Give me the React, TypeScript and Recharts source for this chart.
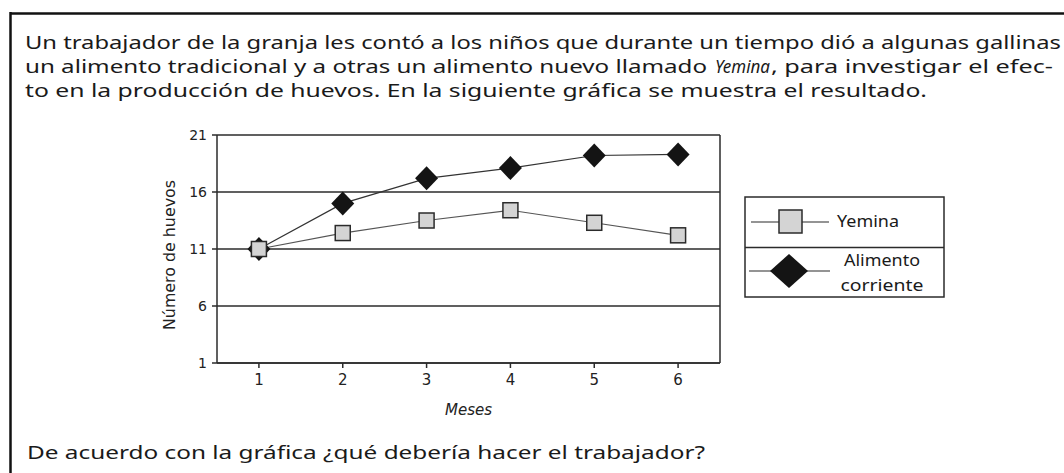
import React from "react";
import {
  CartesianGrid,
  Label,
  Line,
  LineChart,
  ReferenceLine,
  XAxis,
  YAxis,
} from "recharts";

const months = [1, 2, 3, 4, 5, 6];
const yemina = [11, 12.4, 13.5, 14.4, 13.3, 12.2];
const alimento = [11, 15.0, 17.2, 18.1, 19.2, 19.3];
const yTicks = [1, 6, 11, 16, 21];

const data = months.map((mes, i) => ({
  mes,
  yemina: yemina[i],
  alimento: alimento[i],
}));

const INK = "#2b2b2b";
const BODY_FONT = "'Noto Sans', 'DejaVu Sans', sans-serif";
const AXIS_FONT = "'DejaVu Sans', sans-serif";

function SquareDot(props: any) {
  const { cx, cy, index } = props;
  if (cx == null || cy == null) return null;
  return (
    <rect
      key={`sq-${index}`}
      x={cx - 7.5}
      y={cy - 7.5}
      width={15}
      height={15}
      fill="#d4d4d4"
      stroke={INK}
      strokeWidth={1.5}
    />
  );
}

function DiamondDot(props: any) {
  const { cx, cy, index } = props;
  if (cx == null || cy == null) return null;
  return (
    <polygon
      key={`dm-${index}`}
      points={`${cx},${cy - 12} ${cx + 11.5},${cy} ${cx},${cy + 12} ${cx - 11.5},${cy}`}
      fill="#141414"
    />
  );
}

function YLabel({ viewBox }: any) {
  const cx = viewBox.x + 13;
  const cy = viewBox.y + viewBox.height / 2 + 6;
  return (
    <text
      x={cx}
      y={cy}
      transform={`rotate(-90 ${cx} ${cy})`}
      textAnchor="middle"
      dominantBaseline="central"
      fontFamily={AXIS_FONT}
      fontSize={15}
      textLength={150}
      lengthAdjust="spacingAndGlyphs"
      fill="#222"
    >
      Número de huevos
    </text>
  );
}

function XLabel({ viewBox }: any) {
  const cx = viewBox.x + viewBox.width / 2;
  return (
    <text
      x={cx}
      y={410}
      textAnchor="middle"
      dominantBaseline="central"
      fontFamily={AXIS_FONT}
      fontStyle="italic"
      fontSize={15}
      fill="#222"
    >
      Meses
    </text>
  );
}

// legend drawn by hand, the box sits to the right of the plot
function LegendBox() {
  return (
    <g fontFamily={BODY_FONT} fontSize={16} fill="#1a1a1a">
      <rect x={745} y={197} width={199} height={100} fill="#fff" stroke={INK} strokeWidth={1.5} />
      <line x1={745} x2={944} y1={247.5} y2={247.5} stroke={INK} strokeWidth={1.5} />
      <line x1={751} x2={829} y1={222} y2={222} stroke={INK} strokeWidth={1.2} />
      <rect x={779} y={210} width={23} height={23} fill="#d4d4d4" stroke={INK} strokeWidth={1.5} />
      <text x={837} y={227} textLength={62} lengthAdjust="spacingAndGlyphs">
        Yemina
      </text>
      <line x1={749} x2={830} y1={271} y2={271} stroke={INK} strokeWidth={1.2} />
      <polygon points="789,254 808,271 789,288 770,271" fill="#141414" />
      <text x={882} y={266} textAnchor="middle" textLength={76} lengthAdjust="spacingAndGlyphs">
        Alimento
      </text>
      <text x={882} y={291} textAnchor="middle" textLength={83} lengthAdjust="spacingAndGlyphs">
        corriente
      </text>
    </g>
  );
}

export default function App() {
  return (
    <div
      style={{
        position: "absolute",
        left: 0,
        top: 0,
        width: 1064,
        height: 473,
        background: "#fff",
        overflow: "hidden",
      }}
    >
      <svg width={1064} height={473} style={{ position: "absolute", left: 0, top: 0 }}>
        <line x1={10} x2={1064} y1={13.5} y2={13.5} stroke="#111" strokeWidth={2.5} />
        <line x1={10.5} x2={10.5} y1={12} y2={473} stroke="#111" strokeWidth={2.5} />
        <g fontFamily={BODY_FONT} fontSize={18} fill="#1a1a1a">
          <text x={25} y={49} textLength={1036} lengthAdjust="spacingAndGlyphs">
            Un trabajador de la granja les contó a los niños que durante un tiempo dió a algunas gallinas
          </text>
          <text x={25} y={73} textLength={682} lengthAdjust="spacingAndGlyphs">
            un alimento tradicional y a otras un alimento nuevo llamado
          </text>
          <text x={715} y={73} fontStyle="italic" textLength={55} lengthAdjust="spacingAndGlyphs">
            Yemina
          </text>
          <text x={771} y={73} textLength={282} lengthAdjust="spacingAndGlyphs">
            , para investigar el efec-
          </text>
          <text x={25} y={97} textLength={902} lengthAdjust="spacingAndGlyphs">
            to en la producción de huevos. En la siguiente gráfica se muestra el resultado.
          </text>
          <text x={27} y={459} textLength={678} lengthAdjust="spacingAndGlyphs">
            De acuerdo con la gráfica ¿qué debería hacer el trabajador?
          </text>
        </g>
        <LegendBox />
      </svg>
      <div style={{ position: "absolute", left: 0, top: 0 }}>
        <LineChart
          width={1064}
          height={473}
          data={data}
          margin={{ top: 135, right: 344, bottom: 70, left: 157 }}
        >
          <CartesianGrid vertical={false} stroke={INK} strokeWidth={1.5} />
          <XAxis
            dataKey="mes"
            type="number"
            domain={[0.5, 6.5]}
            ticks={months}
            height={40}
            tickSize={5}
            tickMargin={6}
            stroke={INK}
            strokeWidth={1.5}
            tick={{ fill: "#222", fontSize: 15, fontFamily: AXIS_FONT }}
          >
            <Label content={<XLabel />} />
          </XAxis>
          <YAxis
            domain={[1, 21]}
            ticks={yTicks}
            width={60}
            tickSize={5}
            tickMargin={5}
            stroke={INK}
            strokeWidth={1.5}
            tick={{ fill: "#222", fontSize: 14, fontFamily: AXIS_FONT }}
          >
            <Label content={<YLabel />} />
          </YAxis>
          <ReferenceLine x={6.5} stroke={INK} strokeWidth={1.5} />
          <Line
            dataKey="alimento"
            stroke="#333"
            strokeWidth={1.2}
            dot={<DiamondDot />}
            isAnimationActive={false}
          />
          <Line
            dataKey="yemina"
            stroke="#555"
            strokeWidth={1.2}
            dot={<SquareDot />}
            isAnimationActive={false}
          />
        </LineChart>
      </div>
    </div>
  );
}
